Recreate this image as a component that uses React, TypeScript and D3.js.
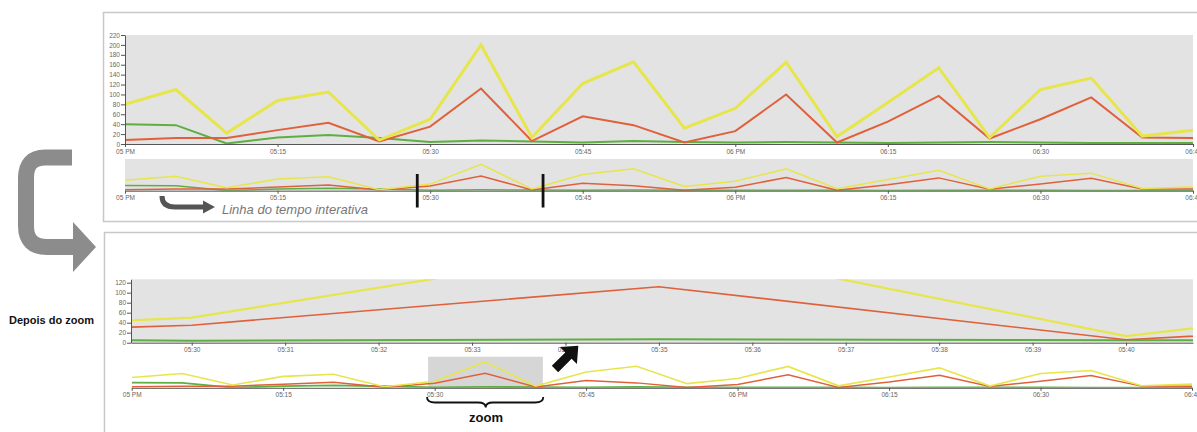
import React, { useEffect, useRef } from "react";
import * as d3 from "d3";

// ---- data (5‑minute samples) ----
const times = [
  "17:00", "17:05", "17:10", "17:15", "17:20", "17:25", "17:30", "17:35",
  "17:40", "17:45", "17:50", "17:55", "18:00", "18:05", "18:10", "18:15",
  "18:20", "18:25", "18:30", "18:35", "18:40", "18:45",
];
const yellowValues = [80, 110, 22, 88, 105, 8, 50, 200, 13, 122, 166, 32, 72, 165, 15, 84, 154, 13, 110, 133, 16, 28];
const redValues = [8, 12, 12, 28, 43, 5, 35, 112, 6, 56, 38, 3, 26, 100, 3, 45, 97, 11, 50, 94, 13, 12];
const greenValues = [40, 38, 1, 13, 18, 12, 4, 7, 5, 3, 6, 4, 3, 4, 3, 2, 3, 4, 3, 2, 2, 2];

const mainYTicks = [0, 20, 40, 60, 80, 100, 120, 140, 160, 180, 200, 220];
const zoomYTicks = [0, 20, 40, 60, 80, 100, 120];
const fullDomain = ["17:00", "18:45"];
const zoomDomain = ["17:29:21", "17:40:43"];
const handleTimes = ["17:28:44", "17:41:06"];

const labelAfter = "Depois do zoom";
const labelTimeline = "Linha do tempo interativa";
const labelZoom = "zoom";

const COLORS = { yellow: "#e6e64c", red: "#e0603c", green: "#5fae42" };
const BG = "#e3e3e3";
const FONT = "Arial, 'Liberation Sans', sans-serif";

export default function App() {
  const ref = useRef<SVGSVGElement>(null);

  useEffect(() => {
    const svg = d3.select(ref.current);
    svg.selectAll("*").remove();
    const pT = d3.timeParse("%H:%M");
    const pS = d3.timeParse("%H:%M:%S");
    const dates = times.map((t) => pT(t) as Date);
    const series = [
      { values: greenValues, color: COLORS.green },
      { values: redValues, color: COLORS.red },
      { values: yellowValues, color: COLORS.yellow },
    ];
    const full = fullDomain.map((t) => pT(t) as Date);
    const zoomD = zoomDomain.map((t) => pS(t) as Date);

    const defs = svg.append("defs");

    // panel borders
    svg.append("rect").attr("x", 103.5).attr("y", 12.5).attr("width", 1120).attr("height", 209)
      .attr("fill", "none").attr("stroke", "#c8c8c8").attr("stroke-width", 1.5);
    svg.append("rect").attr("x", 104.5).attr("y", 232.5).attr("width", 1120).attr("height", 230)
      .attr("fill", "none").attr("stroke", "#c8c8c8").attr("stroke-width", 1.5);

    function styleAxis(g: any) {
      g.selectAll("path.domain").attr("stroke", "#555").attr("stroke-width", 1);
      g.selectAll(".tick line").attr("stroke", "#555");
      g.selectAll("text").attr("fill", "#666").attr("font-size", 6.5).attr("font-family", FONT);
    }

    function chart(opts: {
      id: string; x: any; y: any; bg: boolean; widths: number[];
      yTicks?: number[]; xTickEvery: any; brush?: any;
    }) {
      const { id, x, y, bg, widths } = opts;
      const [x0, x1] = x.range();
      const [yb, yt] = y.range();
      defs.append("clipPath").attr("id", id).append("rect")
        .attr("x", x0).attr("y", yt).attr("width", x1 - x0).attr("height", yb - yt);
      const g = svg.append("g");
      if (bg) g.append("rect").attr("x", x0).attr("y", yt).attr("width", x1 - x0).attr("height", yb - yt).attr("fill", BG);
      if (opts.brush) {
        g.append("rect").attr("x", x(opts.brush[0])).attr("y", yt)
          .attr("width", x(opts.brush[1]) - x(opts.brush[0])).attr("height", yb - yt).attr("fill", "#d6d6d6");
      }
      const lines = g.append("g").attr("clip-path", `url(#${id})`);
      series.forEach((s, i) => {
        const line = d3.line<number>().x((_, j) => x(dates[j])).y((v) => y(v));
        lines.append("path").attr("d", line(s.values)).attr("fill", "none")
          .attr("stroke", s.color).attr("stroke-width", widths[i]).attr("stroke-linejoin", "miter");
      });
      const ax = g.append("g").attr("transform", `translate(0,${yb})`)
        .call(d3.axisBottom(x).ticks(opts.xTickEvery).tickSize(3).tickPadding(2).tickSizeOuter(0));
      styleAxis(ax);
      if (opts.yTicks) {
        const ay = g.append("g").attr("transform", `translate(${x0},0)`)
          .call(d3.axisLeft(y).tickValues(opts.yTicks).tickSize(4).tickPadding(1).tickSizeOuter(0));
        styleAxis(ay);
      }
      return g;
    }

    // ---- top panel ----
    const xTop = d3.scaleTime().domain(full).range([125, 1193]);
    chart({ id: "c1", x: xTop, y: d3.scaleLinear().domain([0, 220]).range([144, 35]), bg: true,
      widths: [2, 2, 3], yTicks: mainYTicks, xTickEvery: d3.timeMinute.every(15) });
    chart({ id: "c2", x: xTop, y: d3.scaleLinear().domain([0, 240]).range([190.7, 159]), bg: true,
      widths: [1.5, 1.5, 1.5], xTickEvery: d3.timeMinute.every(15) });
    handleTimes.forEach((t) => {
      svg.append("rect").attr("x", xTop(pS(t) as Date) - 1.4).attr("y", 174).attr("width", 2.8).attr("height", 33.5).attr("fill", "#111");
    });

    // ---- bottom panel ----
    chart({ id: "c3", x: d3.scaleTime().domain(zoomD).range([131, 1193]),
      y: d3.scaleLinear().domain([0, 126.8]).range([342.7, 279.3]), bg: true,
      widths: [2, 1.6, 2.2], yTicks: zoomYTicks, xTickEvery: d3.timeMinute.every(1) });
    chart({ id: "c4", x: d3.scaleTime().domain(full).range([131.7, 1192]),
      y: d3.scaleLinear().domain([0, 240]).range([387.8, 356.7]), bg: false,
      widths: [1.8, 1.5, 1.6], xTickEvery: d3.timeMinute.every(15), brush: zoomD });

    // ---- annotations ----
    // big gray curved arrow
    svg.append("path").attr("d", "M72,157.5 L45,157.5 Q26,157.5 26,178 L26,226 Q26,247 47,247 L74,247")
      .attr("fill", "none").attr("stroke", "#8c8c8c").attr("stroke-width", 16);
    svg.append("path").attr("d", "M73,222 L96,247 L73,272 Z").attr("fill", "#8c8c8c");
    svg.append("text").attr("x", 9).attr("y", 324).attr("font-family", FONT).attr("font-weight", "bold")
      .attr("font-size", 11).attr("fill", "#111").text(labelAfter);

    // timeline arrow + text
    svg.append("path").attr("d", "M162,196 Q162,207 175,207 L205,207")
      .attr("fill", "none").attr("stroke", "#555").attr("stroke-width", 5);
    svg.append("path").attr("d", "M203,200.5 L215,207 L203,213.5 Z").attr("fill", "#555");
    svg.append("text").attr("x", 222).attr("y", 214).attr("font-family", FONT).attr("font-style", "italic")
      .attr("font-size", 13).attr("fill", "#777").text(labelTimeline);

    // black arrow pointing up-right
    svg.append("path")
      .attr("d", "M0,-4.5 L19,-4.5 L19,-12 L33,0 L19,12 L19,4.5 L0,4.5 Z")
      .attr("transform", "translate(555,369) rotate(-45)").attr("fill", "#111");

    // brace
    svg.append("path")
      .attr("d", "M427,397 Q427,402.5 435,402.5 L478,402.5 Q485.7,402.5 485.7,407.5 Q485.7,402.5 493,402.5 L535,402.5 Q543.3,402.5 543.3,397")
      .attr("fill", "none").attr("stroke", "#111").attr("stroke-width", 1.8);
    svg.append("text").attr("x", 486).attr("y", 421.5).attr("text-anchor", "middle").attr("font-family", FONT)
      .attr("font-weight", "bold").attr("font-size", 13).attr("fill", "#111").text(labelZoom);
  }, []);

  return (
    <svg ref={ref} width={1197} height={432}
      style={{ position: "absolute", left: 0, top: 0, background: "#fff" }} />
  );
}
